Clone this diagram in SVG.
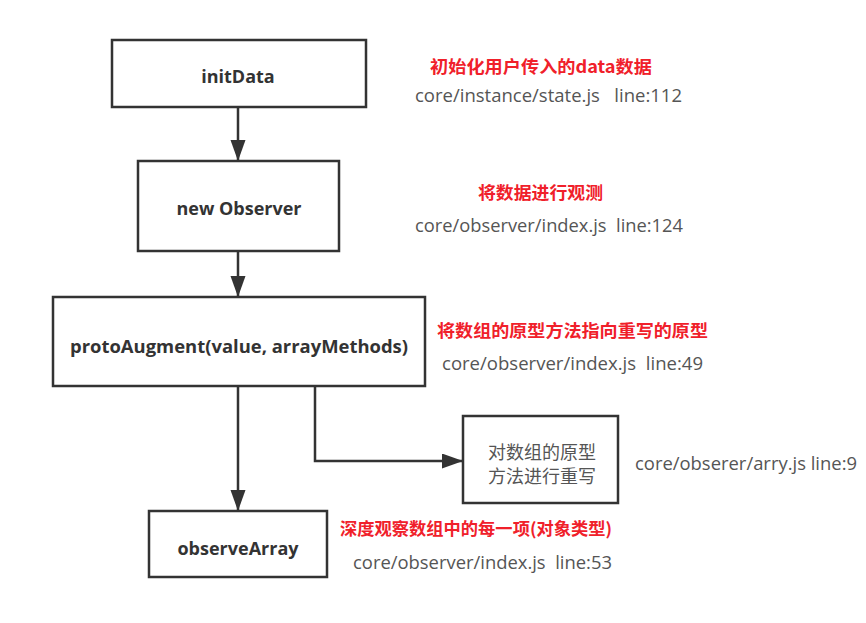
<svg xmlns="http://www.w3.org/2000/svg" width="866" height="623" viewBox="0 0 866 623">
  <defs>
    <marker id="arrow" markerUnits="userSpaceOnUse" markerWidth="22" markerHeight="16" refX="21" refY="7.5" orient="auto">
      <path d="M0,0 L21,7.5 L0,15 Z" fill="#333"/>
    </marker>
    <style>
      .box { fill: #fff; stroke: #333; stroke-width: 2.5; }
      .lbl { font-family: "Open Sans", "Noto Sans", "Noto Sans CJK SC", sans-serif; font-weight: bold; font-size: 18px; fill: #333; text-anchor: middle; dominant-baseline: central; }
      .cjk { font-family: "Noto Sans CJK SC", sans-serif; font-size: 18px; fill: #555; text-anchor: middle; dominant-baseline: central; }
      .red { font-family: "Noto Sans CJK SC", "Open Sans", sans-serif; font-weight: bold; font-size: 17px; fill: #f0202a; dominant-baseline: central; }
      .path { font-family: "Open Sans", "Noto Sans", sans-serif; font-size: 17.5px; fill: #555; dominant-baseline: central; }
      .conn { fill: none; stroke: #333; stroke-width: 2.5; }
    </style>
  </defs>
  <rect width="866" height="623" fill="#fff"/>

  <g id="connectors">
    <line class="conn" x1="238" y1="107" x2="238" y2="161" marker-end="url(#arrow)"/>
    <line class="conn" x1="238" y1="251" x2="238" y2="297" marker-end="url(#arrow)"/>
    <line class="conn" x1="238" y1="386" x2="238" y2="511" marker-end="url(#arrow)"/>
    <polyline class="conn" points="315,386 315,461 463,461" marker-end="url(#arrow)"/>
  </g>

  <g id="initData">
    <rect class="box" x="112" y="40" width="254" height="67"/>
    <text class="lbl" x="238" y="76">initData</text>
  </g>

  <g id="newObserver">
    <rect class="box" x="138" y="161" width="201" height="90"/>
    <text class="lbl" x="239" y="208">new Observer</text>
  </g>

  <g id="protoAugment">
    <rect class="box" x="53" y="297" width="372" height="89"/>
    <text class="lbl" x="239" y="346" textLength="338" lengthAdjust="spacingAndGlyphs">protoAugment(value, arrayMethods)</text>
  </g>

  <g id="rewrite">
    <rect class="box" x="463" y="416" width="155" height="87"/>
    <text class="cjk" x="542" y="451">对数组的原型</text>
    <text class="cjk" x="542" y="475">方法进行重写</text>
  </g>

  <g id="observeArray">
    <rect class="box" x="149" y="511" width="178" height="66"/>
    <text class="lbl" x="238" y="548">observeArray</text>
  </g>

  <g id="notes">
    <text class="red" x="430" y="65" textLength="222" lengthAdjust="spacingAndGlyphs">初始化用户传入的data数据</text>
    <text class="path" x="415" y="95" textLength="267" lengthAdjust="spacingAndGlyphs" xml:space="preserve">core/instance/state.js   line:112</text>

    <text class="red" x="478" y="191" textLength="125" lengthAdjust="spacingAndGlyphs">将数据进行观测</text>
    <text class="path" x="415" y="225" textLength="268" lengthAdjust="spacingAndGlyphs" xml:space="preserve">core/observer/index.js  line:124</text>

    <text class="red" x="437" y="329" textLength="271" lengthAdjust="spacingAndGlyphs">将数组的原型方法指向重写的原型</text>
    <text class="path" x="442" y="363" textLength="261" lengthAdjust="spacingAndGlyphs" xml:space="preserve">core/observer/index.js  line:49</text>

    <text class="path" x="635" y="463" textLength="222" lengthAdjust="spacingAndGlyphs">core/obserer/arry.js line:9</text>

    <text class="red" x="340" y="527" textLength="272" lengthAdjust="spacingAndGlyphs">深度观察数组中的每一项(对象类型)</text>
    <text class="path" x="353" y="562" textLength="259" lengthAdjust="spacingAndGlyphs" xml:space="preserve">core/observer/index.js  line:53</text>
  </g>
</svg>
